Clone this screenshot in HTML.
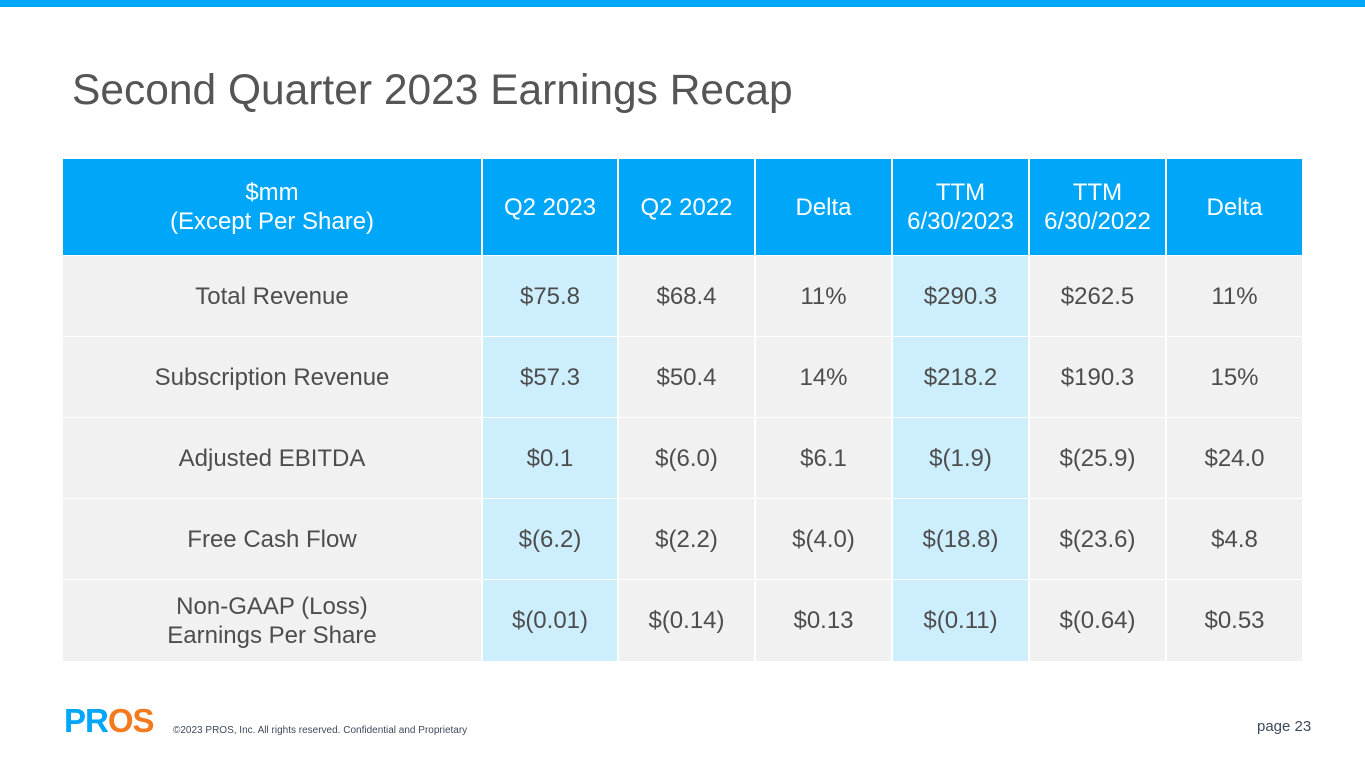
<!DOCTYPE html>
<html><head><meta charset="utf-8"><style>
body{margin:0;width:1365px;height:768px;background:#fff;position:relative;overflow:hidden;font-family:"Liberation Sans",Arial,sans-serif}
.c{position:absolute;display:flex;align-items:center;justify-content:center;text-align:center;font-size:24px;color:#4d4d4d;line-height:29px;font-family:"Liberation Sans",sans-serif}
.h{background:#00a6f8;color:#fff}
.g{background:#f1f1f1}
.b{background:#cdeefd}
</style></head><body>
<div style="position:absolute;left:0;top:0;width:1365px;height:7px;background:#00a6f8"></div>
<div style="position:absolute;left:72px;top:67px;font-size:42.5px;color:#555;font-family:'Liberation Sans',sans-serif">Second Quarter 2023 Earnings Recap</div>
<div id="t"></div>
<div style="position:absolute;left:64px;top:704px;font-size:33px;font-weight:bold;letter-spacing:-1px;line-height:34px;font-family:'Liberation Sans',sans-serif"><span style="color:#00a6f8">PR</span><span style="color:#f47a20">OS</span></div>
<div style="position:absolute;left:173px;top:725px;font-size:10px;color:#3d4a5c">©2023 PROS, Inc. All rights reserved. Confidential and Proprietary</div>
<div style="position:absolute;left:1257px;top:718px;font-size:15px;color:#3d4a5c">page 23</div>
<script>
const colX=[63,483,619,756,893,1030,1167], colW=[418,134,135,135,135,135,135];
const rowY=[159,256,337,418,499,580], rowH=[96,80,80,80,80,81];
const headers=["$mm<br>(Except Per Share)","Q2 2023","Q2 2022","Delta","TTM<br>6/30/2023","TTM<br>6/30/2022","Delta"];
const rows=[
["Total Revenue","$75.8","$68.4","11%","$290.3","$262.5","11%"],
["Subscription Revenue","$57.3","$50.4","14%","$218.2","$190.3","15%"],
["Adjusted EBITDA","$0.1","$(6.0)","$6.1","$(1.9)","$(25.9)","$24.0"],
["Free Cash Flow","$(6.2)","$(2.2)","$(4.0)","$(18.8)","$(23.6)","$4.8"],
["Non-GAAP (Loss)<br>Earnings Per Share","$(0.01)","$(0.14)","$0.13","$(0.11)","$(0.64)","$0.53"]];
const t=document.getElementById('t');
[headers,...rows].forEach((r,i)=>r.forEach((v,j)=>{
 const d=document.createElement('div');
 d.className='c '+(i==0?'h':(j==1||j==4?'b':'g'));
 d.style.cssText=`left:${colX[j]}px;top:${rowY[i]}px;width:${colW[j]}px;height:${rowH[i]}px`;
 d.innerHTML=v;
 
 
 t.appendChild(d);
}));
</script>
</body></html>
